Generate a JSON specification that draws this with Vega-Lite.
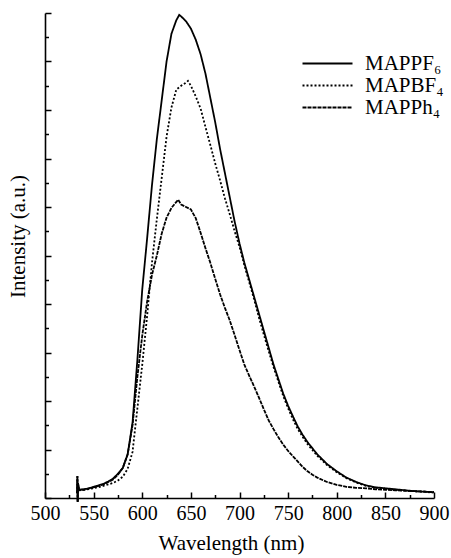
{
  "$schema": "https://vega.github.io/schema/vega-lite/v6.json",
  "autosize": {"type": "none"},
  "padding": {"left": 45, "top": 13, "right": 17, "bottom": 60},
  "width": 389,
  "height": 485,
  "background": "white",
  "config": {
    "view": {"stroke": null},
    "font": "Liberation Serif",
    "axis": {"labelFont": "Liberation Serif", "titleFont": "Liberation Serif", "domainColor": "black", "tickColor": "black", "labelColor": "black", "titleColor": "black", "grid": false, "domainWidth": 1.6, "tickWidth": 1.5, "titleFontWeight": "normal"}
  },
  "datasets": {
    "spectra": [
      {"s":"MAPPF₆","w":533,"i":0.1},{"s":"MAPPF₆","w":533.3,"i":0.45},{"s":"MAPPF₆","w":533.6,"i":-0.08},{"s":"MAPPF₆","w":534,"i":0.3},{"s":"MAPPF₆","w":535,"i":0.17},{"s":"MAPPF₆","w":540,"i":0.18},{"s":"MAPPF₆","w":545,"i":0.2},{"s":"MAPPF₆","w":550,"i":0.23},{"s":"MAPPF₆","w":555,"i":0.26},{"s":"MAPPF₆","w":560,"i":0.29},{"s":"MAPPF₆","w":565,"i":0.34},{"s":"MAPPF₆","w":570,"i":0.4},{"s":"MAPPF₆","w":575,"i":0.5},{"s":"MAPPF₆","w":580,"i":0.62},{"s":"MAPPF₆","w":585,"i":0.9},{"s":"MAPPF₆","w":590,"i":1.55},{"s":"MAPPF₆","w":595,"i":2.85},{"s":"MAPPF₆","w":600,"i":4.3},{"s":"MAPPF₆","w":605,"i":5.35},{"s":"MAPPF₆","w":610,"i":6.45},{"s":"MAPPF₆","w":615,"i":7.4},{"s":"MAPPF₆","w":620,"i":8.2},{"s":"MAPPF₆","w":625,"i":9.0},{"s":"MAPPF₆","w":630,"i":9.57},{"s":"MAPPF₆","w":635,"i":9.85},{"s":"MAPPF₆","w":638,"i":9.96},{"s":"MAPPF₆","w":640,"i":9.93},{"s":"MAPPF₆","w":645,"i":9.83},{"s":"MAPPF₆","w":650,"i":9.68},{"s":"MAPPF₆","w":655,"i":9.45},{"s":"MAPPF₆","w":660,"i":9.15},{"s":"MAPPF₆","w":665,"i":8.75},{"s":"MAPPF₆","w":670,"i":8.25},{"s":"MAPPF₆","w":675,"i":7.75},{"s":"MAPPF₆","w":680,"i":7.2},{"s":"MAPPF₆","w":685,"i":6.7},{"s":"MAPPF₆","w":690,"i":6.2},{"s":"MAPPF₆","w":695,"i":5.7},{"s":"MAPPF₆","w":700,"i":5.25},{"s":"MAPPF₆","w":705,"i":4.85},{"s":"MAPPF₆","w":710,"i":4.5},{"s":"MAPPF₆","w":715,"i":4.15},{"s":"MAPPF₆","w":720,"i":3.8},{"s":"MAPPF₆","w":725,"i":3.45},{"s":"MAPPF₆","w":730,"i":3.1},{"s":"MAPPF₆","w":735,"i":2.75},{"s":"MAPPF₆","w":740,"i":2.45},{"s":"MAPPF₆","w":745,"i":2.15},{"s":"MAPPF₆","w":750,"i":1.9},{"s":"MAPPF₆","w":755,"i":1.68},{"s":"MAPPF₆","w":760,"i":1.47},{"s":"MAPPF₆","w":765,"i":1.3},{"s":"MAPPF₆","w":770,"i":1.15},{"s":"MAPPF₆","w":780,"i":0.9},{"s":"MAPPF₆","w":790,"i":0.7},{"s":"MAPPF₆","w":800,"i":0.55},{"s":"MAPPF₆","w":810,"i":0.42},{"s":"MAPPF₆","w":820,"i":0.33},{"s":"MAPPF₆","w":830,"i":0.26},{"s":"MAPPF₆","w":840,"i":0.22},{"s":"MAPPF₆","w":850,"i":0.2},{"s":"MAPPF₆","w":860,"i":0.18},{"s":"MAPPF₆","w":870,"i":0.16},{"s":"MAPPF₆","w":880,"i":0.14},{"s":"MAPPF₆","w":890,"i":0.13},{"s":"MAPPF₆","w":900,"i":0.12},
      {"s":"MAPBF₄","w":533,"i":0.1},{"s":"MAPBF₄","w":533.3,"i":0.45},{"s":"MAPBF₄","w":533.6,"i":-0.08},{"s":"MAPBF₄","w":534,"i":0.3},{"s":"MAPBF₄","w":535,"i":0.16},{"s":"MAPBF₄","w":540,"i":0.17},{"s":"MAPBF₄","w":550,"i":0.2},{"s":"MAPBF₄","w":560,"i":0.25},{"s":"MAPBF₄","w":565,"i":0.28},{"s":"MAPBF₄","w":570,"i":0.31},{"s":"MAPBF₄","w":575,"i":0.36},{"s":"MAPBF₄","w":580,"i":0.44},{"s":"MAPBF₄","w":585,"i":0.6},{"s":"MAPBF₄","w":590,"i":0.95},{"s":"MAPBF₄","w":595,"i":1.85},{"s":"MAPBF₄","w":600,"i":2.75},{"s":"MAPBF₄","w":605,"i":3.75},{"s":"MAPBF₄","w":610,"i":4.85},{"s":"MAPBF₄","w":615,"i":5.75},{"s":"MAPBF₄","w":620,"i":6.6},{"s":"MAPBF₄","w":625,"i":7.45},{"s":"MAPBF₄","w":630,"i":8.05},{"s":"MAPBF₄","w":635,"i":8.42},{"s":"MAPBF₄","w":640,"i":8.5},{"s":"MAPBF₄","w":644,"i":8.55},{"s":"MAPBF₄","w":647,"i":8.6},{"s":"MAPBF₄","w":650,"i":8.5},{"s":"MAPBF₄","w":655,"i":8.28},{"s":"MAPBF₄","w":660,"i":8.03},{"s":"MAPBF₄","w":665,"i":7.65},{"s":"MAPBF₄","w":670,"i":7.28},{"s":"MAPBF₄","w":675,"i":6.9},{"s":"MAPBF₄","w":680,"i":6.55},{"s":"MAPBF₄","w":685,"i":6.18},{"s":"MAPBF₄","w":690,"i":5.85},{"s":"MAPBF₄","w":695,"i":5.5},{"s":"MAPBF₄","w":700,"i":5.18},{"s":"MAPBF₄","w":705,"i":4.8},{"s":"MAPBF₄","w":710,"i":4.45},{"s":"MAPBF₄","w":715,"i":4.1},{"s":"MAPBF₄","w":720,"i":3.72},{"s":"MAPBF₄","w":725,"i":3.37},{"s":"MAPBF₄","w":730,"i":3.03},{"s":"MAPBF₄","w":735,"i":2.7},{"s":"MAPBF₄","w":740,"i":2.4},{"s":"MAPBF₄","w":745,"i":2.1},{"s":"MAPBF₄","w":750,"i":1.85},{"s":"MAPBF₄","w":755,"i":1.62},{"s":"MAPBF₄","w":760,"i":1.42},{"s":"MAPBF₄","w":765,"i":1.26},{"s":"MAPBF₄","w":770,"i":1.11},{"s":"MAPBF₄","w":780,"i":0.87},{"s":"MAPBF₄","w":790,"i":0.68},{"s":"MAPBF₄","w":800,"i":0.53},{"s":"MAPBF₄","w":810,"i":0.41},{"s":"MAPBF₄","w":820,"i":0.32},{"s":"MAPBF₄","w":830,"i":0.25},{"s":"MAPBF₄","w":840,"i":0.21},{"s":"MAPBF₄","w":850,"i":0.19},{"s":"MAPBF₄","w":860,"i":0.17},{"s":"MAPBF₄","w":870,"i":0.15},{"s":"MAPBF₄","w":880,"i":0.14},{"s":"MAPBF₄","w":890,"i":0.13},{"s":"MAPBF₄","w":900,"i":0.11},
      {"s":"MAPPh₄","w":533,"i":0.1},{"s":"MAPPh₄","w":533.3,"i":0.45},{"s":"MAPPh₄","w":533.6,"i":-0.08},{"s":"MAPPh₄","w":534,"i":0.3},{"s":"MAPPh₄","w":535,"i":0.17},{"s":"MAPPh₄","w":540,"i":0.17},{"s":"MAPPh₄","w":550,"i":0.22},{"s":"MAPPh₄","w":560,"i":0.28},{"s":"MAPPh₄","w":570,"i":0.38},{"s":"MAPPh₄","w":575,"i":0.48},{"s":"MAPPh₄","w":580,"i":0.62},{"s":"MAPPh₄","w":585,"i":0.9},{"s":"MAPPh₄","w":590,"i":1.5},{"s":"MAPPh₄","w":595,"i":2.5},{"s":"MAPPh₄","w":600,"i":3.35},{"s":"MAPPh₄","w":605,"i":4.05},{"s":"MAPPh₄","w":610,"i":4.6},{"s":"MAPPh₄","w":615,"i":5.0},{"s":"MAPPh₄","w":620,"i":5.45},{"s":"MAPPh₄","w":625,"i":5.78},{"s":"MAPPh₄","w":630,"i":5.98},{"s":"MAPPh₄","w":634,"i":6.08},{"s":"MAPPh₄","w":637,"i":6.15},{"s":"MAPPh₄","w":640,"i":6.05},{"s":"MAPPh₄","w":645,"i":6.0},{"s":"MAPPh₄","w":650,"i":5.95},{"s":"MAPPh₄","w":655,"i":5.77},{"s":"MAPPh₄","w":660,"i":5.47},{"s":"MAPPh₄","w":665,"i":5.15},{"s":"MAPPh₄","w":670,"i":4.85},{"s":"MAPPh₄","w":675,"i":4.52},{"s":"MAPPh₄","w":680,"i":4.2},{"s":"MAPPh₄","w":685,"i":3.92},{"s":"MAPPh₄","w":690,"i":3.66},{"s":"MAPPh₄","w":695,"i":3.36},{"s":"MAPPh₄","w":700,"i":3.05},{"s":"MAPPh₄","w":705,"i":2.75},{"s":"MAPPh₄","w":710,"i":2.52},{"s":"MAPPh₄","w":715,"i":2.3},{"s":"MAPPh₄","w":720,"i":2.07},{"s":"MAPPh₄","w":725,"i":1.83},{"s":"MAPPh₄","w":730,"i":1.6},{"s":"MAPPh₄","w":735,"i":1.42},{"s":"MAPPh₄","w":740,"i":1.25},{"s":"MAPPh₄","w":745,"i":1.1},{"s":"MAPPh₄","w":750,"i":0.97},{"s":"MAPPh₄","w":755,"i":0.86},{"s":"MAPPh₄","w":760,"i":0.75},{"s":"MAPPh₄","w":765,"i":0.64},{"s":"MAPPh₄","w":770,"i":0.55},{"s":"MAPPh₄","w":775,"i":0.48},{"s":"MAPPh₄","w":780,"i":0.42},{"s":"MAPPh₄","w":790,"i":0.33},{"s":"MAPPh₄","w":800,"i":0.27},{"s":"MAPPh₄","w":810,"i":0.23},{"s":"MAPPh₄","w":820,"i":0.21},{"s":"MAPPh₄","w":830,"i":0.2},{"s":"MAPPh₄","w":840,"i":0.18},{"s":"MAPPh₄","w":850,"i":0.17},{"s":"MAPPh₄","w":860,"i":0.16},{"s":"MAPPh₄","w":870,"i":0.15},{"s":"MAPPh₄","w":880,"i":0.14},{"s":"MAPPh₄","w":890,"i":0.13},{"s":"MAPPh₄","w":900,"i":0.12}
    ]
  },
  "data": {"name": "spectra"},
  "layer": [
    {
      "mark": {"type": "line", "color": "black", "strokeWidth": 1.8, "clip": false},
      "encoding": {
        "x": {"field": "w", "type": "quantitative", "scale": {"domain": [500, 900], "nice": false, "zero": false},
          "axis": {"orient": "bottom", "values": [500,550,600,650,700,750,800,850,900], "tickSize": -6, "labelFontSize": 20, "labelPadding": 11, "labelFlush": false, "title": "Wavelength (nm)", "titleFontSize": 21, "titleX": 186, "titleY": 34}},
        "y": {"field": "i", "type": "quantitative", "scale": {"domain": [0, 10], "nice": false},
          "axis": {"orient": "left", "values": [0,1,2,3,4,5,6,7,8,9,10], "tickSize": -6, "labels": false, "title": "Intensity (a.u.)", "titleFontSize": 21, "titleX": -17, "titleY": 223}},
        "strokeDash": {"field": "s", "type": "nominal",
          "scale": {"domain": ["MAPPF₆", "MAPBF₄", "MAPPh₄"], "range": [[1, 0], [2, 2], [4, 1]]},
          "legend": {"orient": "none", "legendX": 272, "legendY": 40, "title": null, "symbolType": "M-5,0H5", "symbolSize": 100, "symbolStrokeWidth": 2, "symbolStrokeColor": "black", "labelFont": "Liberation Serif", "labelFontSize": 21, "labelColor": "black", "labelOffset": 27, "rowPadding": 0, "padding": 0}}
      }
    },
    {
      "mark": {"type": "line", "opacity": 0},
      "encoding": {
        "x": {"field": "w", "type": "quantitative", "axis": {"orient": "bottom", "values": [525,575,625,675,725,775,825,875], "tickSize": -3.5, "labels": false, "domain": false, "title": null}},
        "y": {"field": "i", "type": "quantitative", "axis": {"orient": "left", "values": [0.5,1.5,2.5,3.5,4.5,5.5,6.5,7.5,8.5,9.5], "tickSize": -3.5, "labels": false, "domain": false, "title": null}},
        "detail": {"field": "s"}
      }
    }
  ],
  "resolve": {"axis": {"x": "independent", "y": "independent"}}
}
